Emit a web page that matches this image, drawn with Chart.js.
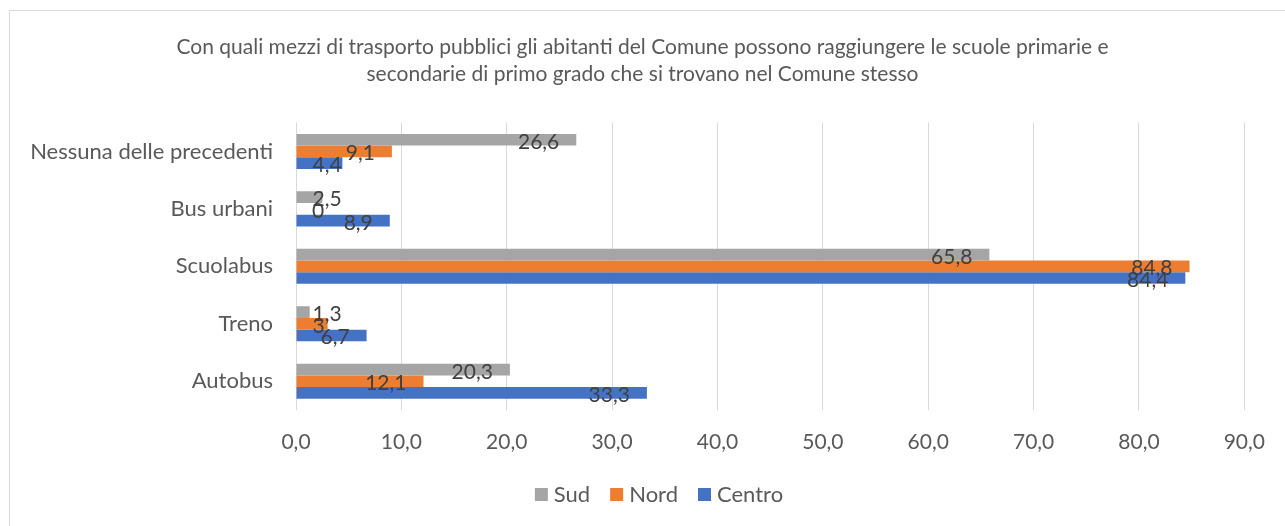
<!DOCTYPE html>
<html>
<head>
<meta charset="utf-8">
<script src="https://cdn.jsdelivr.net/npm/chart.js@4.4.1/dist/chart.umd.min.js"></script>
<style>
  html, body { margin: 0; padding: 0; background: #fff; overflow: hidden; }
  #frame { position: absolute; left: 9px; top: 10px; width: 1400px; height: 600px; border: 1px solid #d9d9d9; }
  #wrap { position: absolute; left: 0; top: 0; width: 1285px; height: 526px; }
</style>
</head>
<body>
<div id="frame"></div>
<div id="wrap"><canvas id="chart" width="1285" height="526"></canvas></div>
<script>
// categories, top to bottom as in the picture
const categories = ["Nessuna delle precedenti", "Bus urbani", "Scuolabus", "Treno", "Autobus"];

// series values (percent)
const sud = [26.6, 2.5, 65.8, 1.3, 20.3];
const nord = [9.1, 0, 84.8, 3, 12.1];
const centro = [4.4, 8.9, 84.4, 6.7, 33.3];

const seriesNames = ["Sud", "Nord", "Centro"];
const seriesColors = ["#a5a5a5", "#ed7d31", "#4472c4"];

const xTicks = [0, 10, 20, 30, 40, 50, 60, 70, 80, 90];

const titleLines = [
  "Con quali mezzi di trasporto pubblici gli abitanti del Comune possono raggiungere le scuole primarie e",
  "secondarie di primo grado che si trovano nel Comune stesso"
];

const FONT = "Lato";

// comma as decimal separator, like the Italian Excel original
const fmt = function(v, digits) {
  if (digits !== undefined) return v.toFixed(digits).replace(".", ",");
  return String(v).replace(".", ",");
};

// value labels sitting at the inner end of each bar
const barLabels = {
  id: "barLabels",
  afterDatasetsDraw(chart) {
    const ctx = chart.ctx;
    ctx.save();
    ctx.font = "21px " + FONT;
    ctx.fillStyle = "#404040";
    ctx.textAlign = "left";
    ctx.textBaseline = "alphabetic";
    chart.data.datasets.forEach((ds, i) => {
      const meta = chart.getDatasetMeta(i);
      meta.data.forEach((bar, j) => {
        const txt = fmt(ds.data[j]);
        const w = ctx.measureText(txt).width;
        const left = Math.max(bar.x - 17 - w, bar.base + 16);
        ctx.fillText(txt, left, bar.y + 9);
      });
    });
    ctx.restore();
  }
};

// legend drawn under the plot, Excel style
const bottomLegend = {
  id: "bottomLegend",
  afterDraw(chart) {
    const ctx = chart.ctx;
    ctx.save();
    ctx.font = "22px " + FONT;
    const box = 13, gapText = 6, gapItem = 20;
    const items = chart.data.datasets.map(ds => ({
      label: ds.label,
      color: ds.backgroundColor,
      w: ctx.measureText(ds.label).width
    }));
    let total = 0;
    items.forEach((it, k) => {
      total += box + gapText + it.w + (k < items.length - 1 ? gapItem : 0);
    });
    let x = 659 - total / 2;
    items.forEach(it => {
      ctx.fillStyle = it.color;
      ctx.fillRect(x, 488, box, box);
      ctx.fillStyle = "#595959";
      ctx.textBaseline = "alphabetic";
      ctx.fillText(it.label, x + box + gapText, 502);
      x += box + gapText + it.w + gapItem;
    });
    ctx.restore();
  }
};

const data = {
  labels: categories,
  datasets: [
    { label: seriesNames[0], data: sud, backgroundColor: seriesColors[0] },
    { label: seriesNames[1], data: nord, backgroundColor: seriesColors[1] },
    { label: seriesNames[2], data: centro, backgroundColor: seriesColors[2] }
  ]
};

const ctx = document.getElementById("chart").getContext("2d");
const myChart = new Chart(ctx, {
  type: "bar",
  data: data,
  plugins: [barLabels, bottomLegend],
  options: {
    indexAxis: "y",
    responsive: false,
    animation: false,
    layout: { padding: 0 },
    datasets: {
      bar: { categoryPercentage: 0.61, barPercentage: 1.0 }
    },
    plugins: {
      legend: { display: false },
      tooltip: { enabled: false },
      title: {
        display: true,
        text: titleLines,
        color: "#595959",
        font: { family: FONT, size: 21, weight: "normal", lineHeight: 1.29 },
        padding: { top: 34, bottom: 34.5 }
      }
    },
    scales: {
      x: {
        min: 0,
        max: 90,
        afterBuildTicks: (scale) => { scale.ticks = xTicks.map(v => ({ value: v })); },
        afterFit: (scale) => { scale.height = 116; },
        grid: { color: "#d9d9d9", lineWidth: 1, drawTicks: false },
        border: { display: false },
        ticks: {
          padding: 20,
          color: "#595959",
          font: { family: FONT, size: 21 },
          callback: (v) => fmt(v, 1)
        }
      },
      y: {
        afterFit: (scale) => { scale.width = 296; },
        grid: { display: false, drawTicks: false },
        border: { display: false },
        ticks: {
          padding: 23,
          color: "#595959",
          font: { family: FONT, size: 22 }
        }
      },
      // empty right-hand margin, keeps the title centred on the whole chart
      yRight: {
        type: "category",
        position: "right",
        afterFit: (scale) => { scale.width = 39; },
        grid: { display: false, drawTicks: false },
        border: { display: false },
        ticks: { display: false }
      }
    }
  }
});
</script>
</body>
</html>
